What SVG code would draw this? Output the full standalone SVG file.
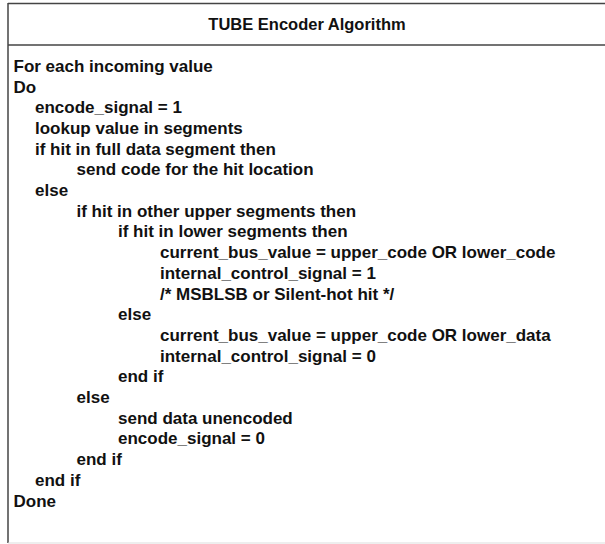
<svg xmlns="http://www.w3.org/2000/svg" width="605" height="544" viewBox="0 0 605 544">
  <style>
    .t { font-family: "Liberation Sans", Arial, sans-serif; font-weight: bold; font-size: 17px; fill: #111; }
    .title { font-family: "Liberation Sans", Arial, sans-serif; font-weight: bold; font-size: 16.5px; fill: #111; text-anchor: middle; }
    .frame { stroke: #444; stroke-width: 1.5; fill: none; }
  </style>
  <rect x="0" y="0" width="605" height="544" fill="#fff"/>
  <g id="frame">
    <line class="frame" x1="8" y1="3.5" x2="605" y2="3.5"/>
    <line class="frame" x1="8" y1="3" x2="8" y2="543"/>
    <line class="frame" x1="8" y1="45" x2="605" y2="45"/>
    <line x1="8" y1="543" x2="605" y2="543" stroke="#ddd" stroke-width="1"/>
  </g>
  <g id="title">
    <text class="title" x="307" y="30">TUBE Encoder Algorithm</text>
  </g>
  <g id="body">
    <text class="t" x="13.5" y="71.8">For each incoming value</text>
    <text class="t" x="13.5" y="92.5">Do</text>
    <text class="t" x="35" y="113.2">encode_signal = 1</text>
    <text class="t" x="35" y="133.9">lookup value in segments</text>
    <text class="t" x="35" y="154.6">if hit in full data segment then</text>
    <text class="t" x="76.5" y="175.3">send code for the hit location</text>
    <text class="t" x="35" y="196">else</text>
    <text class="t" x="76.5" y="216.7">if hit in other upper segments then</text>
    <text class="t" x="118" y="237.4">if hit in lower segments then</text>
    <text class="t" x="160" y="258.1">current_bus_value = upper_code OR lower_code</text>
    <text class="t" x="160" y="278.8">internal_control_signal = 1</text>
    <text class="t" x="160" y="299.5">/* MSBLSB or Silent-hot hit */</text>
    <text class="t" x="118" y="320.2">else</text>
    <text class="t" x="160" y="340.9">current_bus_value = upper_code OR lower_data</text>
    <text class="t" x="160" y="361.6">internal_control_signal = 0</text>
    <text class="t" x="118" y="382.3">end if</text>
    <text class="t" x="76.5" y="403">else</text>
    <text class="t" x="118" y="423.7">send data unencoded</text>
    <text class="t" x="118" y="444.4">encode_signal = 0</text>
    <text class="t" x="76.5" y="465.1">end if</text>
    <text class="t" x="35" y="485.8">end if</text>
    <text class="t" x="13.5" y="506.5">Done</text>
  </g>
</svg>
